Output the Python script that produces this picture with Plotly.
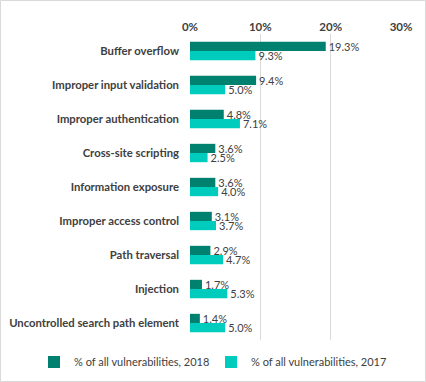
import plotly.graph_objects as go

categories = ["Buffer overflow", "Improper input validation", "Improper authentication",
              "Cross-site scripting", "Information exposure", "Improper access control",
              "Path traversal", "Injection", "Uncontrolled search path element"]
vals_2018 = [19.3, 9.4, 4.8, 3.6, 3.6, 3.1, 2.9, 1.7, 1.4]
vals_2017 = [9.3, 5.0, 7.1, 2.5, 4.0, 3.7, 4.7, 5.3, 5.0]
series_names = ["% of all vulnerabilities, 2018", "% of all vulnerabilities, 2017"]
tick_vals = [0, 10, 20, 30]
tick_text = ["0%", "10%", "20%", "30%"]

W, H = 426, 382
L, R, T, B = 190, 25, 34, 42
pw, ph = W - L - R, H - T - B

txtcol = "#404040"
font = "Lato"

fig = go.Figure()
for name, vals, col in [(series_names[0], vals_2018, "#00806E"), (series_names[1], vals_2017, "#00CCBD")]:
    fig.add_trace(go.Bar(
        y=categories, x=vals, name=name, orientation="h",
        marker=dict(color=col, line=dict(width=0)),
        text=[f"{v:.1f}%" for v in vals], textposition="outside",
        constraintext="none",
        textfont=dict(color=txtcol, size=11, family=font),
        cliponaxis=False,
    ))

fig.update_layout(
    width=W, height=H,
    margin=dict(l=L, r=R, t=T, b=B, pad=0, autoexpand=False),
    paper_bgcolor="white", plot_bgcolor="white",
    barmode="group", bargap=0.46, bargroupgap=0,
    font=dict(family=font, color=txtcol, size=11.5),
    showlegend=True,
    legend=dict(orientation="h", xref="paper", x=(34 - L) / pw, xanchor="left",
                yref="paper", y=-22 / ph, yanchor="middle",
                font=dict(size=11, color=txtcol, family=font),
                entrywidth=132, entrywidthmode="pixels",
                itemwidth=30, traceorder="normal"),
    xaxis=dict(side="top", range=[0, 30], tickvals=tick_vals, ticktext=tick_text,
               showgrid=True, gridcolor="#D9D9D9", gridwidth=1, zeroline=False,
               showline=False, ticks="", tickfont=dict(size=11.5, color=txtcol, family=font, weight="bold"),
               fixedrange=True),
    yaxis=dict(autorange="reversed", showgrid=False, zeroline=False, showline=False, ticks="",
               ticklabelstandoff=10,
               tickfont=dict(size=11.3, color=txtcol, family=font, weight="bold")),
    shapes=[dict(type="rect", xref="paper", yref="paper",
                 x0=-(L - 0.5) / pw, x1=1 + (R - 0.5) / pw,
                 y0=-(B - 0.5) / ph, y1=1 + (T - 0.5) / ph,
                 line=dict(color="#D9D9D9", width=1), fillcolor="rgba(0,0,0,0)", layer="above")],
)

fig.write_html("out.html", config={"displayModeBar": False},
               post_script="document.body.style.margin='0px';")
